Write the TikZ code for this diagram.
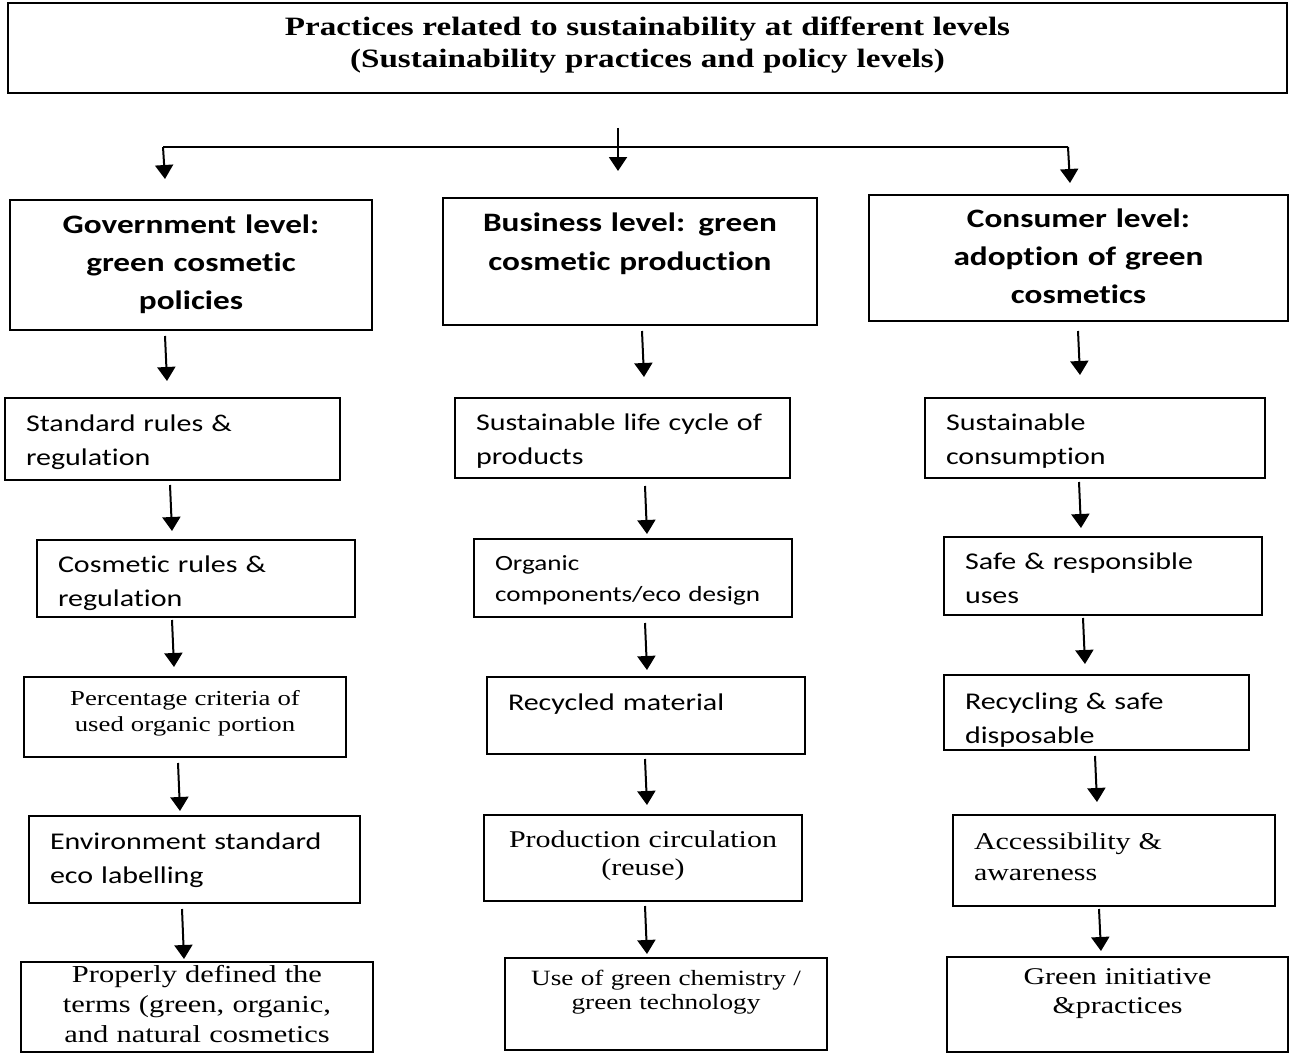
\documentclass[tikz,border=0pt]{standalone}
\usepackage{fontspec}
\setmainfont{Liberation Serif}[FakeStretch=1.25]
\newfontfamily\calibri{Carlito}[FakeStretch=1.25,Ligatures=CommonOff]
\usetikzlibrary{arrows.meta,calc}

\tikzset{
	box/.style={draw, line width=1pt, inner xsep=10.5pt, inner ysep=0pt},
	lift/.style={text height=0pt, text depth=#1pt},
	level/.style={box, align=center, font=\calibri\bfseries\fontsize{13.3}{19}\selectfont},
	stepsans/.style={box, align=left, font=\calibri\fontsize{12}{17}\selectfont},
	stepserif/.style={box, align=center, font=\fontsize{12}{14.5}\selectfont},
	arr/.style={line width=1pt, -{Triangle[length=7pt,width=9pt]}},
}

\begin{document}
\begin{tikzpicture}[x=0.5pt,y=-0.5pt]
	\useasboundingbox (0,0) rectangle (1290,1054);
	
	% heading
	\node[box, align=center, font=\bfseries\fontsize{13.25}{16}\selectfont, text width=618.5pt, minimum height=45pt, lift=12] (title) at (647.5,48) {Practices related to sustainability at different levels\\(Sustainability practices and policy levels)};
	
	% the three levels
	\node[level, text width=160pt, minimum height=65pt, lift=32] (gov) at (191,265) {Government level:\\green cosmetic\\policies};
	\node[level, font=\calibri\bfseries\fontsize{13.3}{19.5}\selectfont, text width=166pt, minimum height=63.5pt, lift=30.5] (bus) at (630,261.5) {Business level: green\\cosmetic production};
	\node[level, text width=188.5pt, minimum height=63pt, lift=31] (con) at (1078.5,258) {Consumer level:\hspace*{10pt}\\adoption of green\hspace*{10pt}\\cosmetics\hspace*{10pt}};
	
	\coordinate (hub)  at (618,128);
	\coordinate (barL) at (163,147);
	\coordinate (barR) at (1068,147);
	\draw[line width=1pt] (barL) -- (barR);
	\draw[arr] (hub) -- ($(bus.north)+(-12,-26)$);
	\draw[arr] (barL) -- ($(gov.north)+(-26,-20)$);
	\draw[arr] (barR) -- ($(con.north)+(-8.5,-11)$);
	
	% government column
	\node[stepsans, text width=146.5pt, minimum height=41pt, lift=8] (c1a) at (172.5,439) {Standard rules \&\\regulation};
	\node[stepsans, text width=138pt, minimum height=38.5pt, lift=6.5] (c1b) at (196,578.5) {Cosmetic rules \&\\regulation};
	\node[stepserif, font=\fontsize{10.7}{13}\selectfont, text width=140pt, minimum height=40pt, lift=12] (c1c) at (185,717) {Percentage criteria of\\used organic portion};
	\node[stepsans, text width=144.5pt, minimum height=43.5pt, lift=10.5] (c1d) at (194.5,859.5) {Environment standard\\eco labelling};
	\node[stepserif, font=\fontsize{12.2}{15}\selectfont, text width=155pt, minimum height=45pt, lift=25] (c1e) at (197,1007) {Properly defined the\\terms (green, organic,\\and natural cosmetics};
	
	\draw[arr] ($(gov.south)+(-26,5)$) -- ($(c1a.north)+(-5.5,-16)$);
	\draw[arr] ($(c1a.south)+(-2.5,4)$) -- ($(c1b.north)+(-24,-8)$);
	\draw[arr] ($(c1b.south)+(-24,2)$) -- ($(c1c.north)+(-11,-9)$);
	\draw[arr] ($(c1c.south)+(-7,5)$) -- ($(c1d.north)+(-14.5,-4)$);
	\draw[arr] ($(c1d.south)+(-12.5,5)$) -- ($(c1e.north)+(-13,-2)$);
	
	% business column
	\node[stepsans, text width=146.5pt, minimum height=40pt, lift=8] (c2a) at (622.5,438) {Sustainable life cycle of\\products};
	\node[stepsans, font=\calibri\fontsize{10.85}{15.5}\selectfont, text width=138pt, minimum height=39pt, lift=8] (c2b) at (633,578) {Organic\\components/eco design};
	\node[stepsans, text width=138pt, minimum height=38.5pt, lift=5.5] (c2c) at (646,715.5) {Recycled material};
	\node[stepserif, font=\fontsize{12}{14}\selectfont, text width=138pt, minimum height=43pt, lift=11] (c2d) at (643,858) {Production circulation\\(reuse)};
	\node[stepserif, font=\fontsize{10.9}{12}\selectfont, text width=140pt, minimum height=46pt, lift=19] (c2e) at (666,1004) {Use of green chemistry /\\green technology};
	
	\draw[arr] ($(bus.south)+(12,5)$) -- ($(c2a.north)+(21.5,-20)$);
	\draw[arr] ($(c2a.south)+(22.5,7)$) -- ($(c2b.north)+(14,-4)$);
	\draw[arr] ($(c2b.south)+(12,5)$) -- ($(c2c.north)+(1,-6)$);
	\draw[arr] ($(c2c.south)+(-1,4)$) -- ($(c2d.north)+(4,-9)$);
	\draw[arr] ($(c2d.south)+(2,4)$) -- ($(c2e.north)+(-19,-3)$);
	
	% consumer column
	\node[stepsans, text width=149pt, minimum height=40pt, lift=8] (c3a) at (1095,438) {Sustainable\\consumption};
	\node[stepsans, text width=138pt, minimum height=39pt, lift=7] (c3b) at (1103,576) {Safe \& responsible\\uses};
	\node[stepsans, text width=131.5pt, minimum height=37.5pt, lift=3.5] (c3c) at (1096.5,712.5) {Recycling \& safe\\disposable};
	\node[stepserif, align=left, font=\fontsize{12}{15.5}\selectfont, text width=140pt, minimum height=45.5pt, lift=11.5] (c3d) at (1114,860.5) {Accessibility \&\\awareness};
	\node[stepserif, text width=149.5pt, minimum height=47.5pt, lift=20.5] (c3e) at (1117.5,1004.5) {Green initiative\\\&practices};
	
	\draw[arr] ($(con.south)+(-0.5,9)$) -- ($(c3a.north)+(-15,-22)$);
	\draw[arr] ($(c3a.south)+(-16,3)$) -- ($(c3b.north)+(-22,-8)$);
	\draw[arr] ($(c3b.south)+(-20,2)$) -- ($(c3c.north)+(-11.5,-10)$);
	\draw[arr] ($(c3c.south)+(-1.5,5)$) -- ($(c3d.north)+(-17,-12)$);
	\draw[arr] ($(c3d.south)+(-15,2)$) -- ($(c3e.north)+(-16.5,-5)$);
	
\end{tikzpicture}
\end{document}
